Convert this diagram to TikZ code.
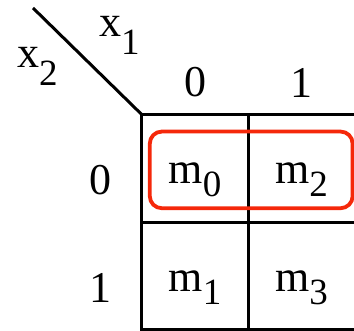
\documentclass[tikz,border=0pt]{standalone}
\usepackage{fontspec}
\setmainfont{Liberation Serif}
\usetikzlibrary{positioning, calc}

\definecolor{kmred}{RGB}{245,40,10}
\newcommand{\kmsub}[2][13pt]{\raisebox{-#1}{\fontsize{37}{37}\selectfont #2}}

\begin{document}
\begin{tikzpicture}[x=1pt, y=1pt, node distance=17pt and 30pt]

\tikzset{
  cell/.style={
    rectangle, inner sep=0pt,
    minimum width=106pt, minimum height=107.25pt,
    text height=40pt, text depth=9pt,
    font=\fontsize{44}{50}\selectfont
  },
  lbl/.style={inner sep=0pt, font=\fontsize{44}{50}\selectfont},
  grid/.style={line width=3pt},
  group/.style={draw=kmred, line width=3.8pt, rounded corners=12pt}
}

\useasboundingbox (0,0) rectangle (354,331);

% ==========================
% Cells
% ==========================
\node[cell] (m0) at (195,162.6) {m\kmsub{0}};
\node[cell, right=0pt of m0] (m2) {m\kmsub{2}};
\node[cell, below=0pt of m0] (m1) {m\kmsub{1}};
\node[cell, right=0pt of m1] (m3) {m\kmsub{3}};

\draw[grid] (m2.north east) -- (m0.north west) -- (m1.south west) -- (m3.south east);
\draw[grid] (m0.north east) -- (m3.south west);
\draw[grid] (m0.south west) -- (m2.south east);

% Corner
\coordinate (corner) at (33,323);
\draw[grid] (corner) -- (m0.north west);

% ==========================
% Labels
% ==========================
\node[lbl, above=of m0] (c0) {0};
\node[lbl, above=of m2] (c1) {1};
\node[lbl, left=of m0, yshift=-12pt] (r0) {0};
\node[lbl, left=of m1, yshift=-12pt] (r1) {1};

\node[lbl, anchor=base west] (x1) at (99,294) {x\kmsub[18pt]{1}};
\node[lbl, anchor=base west] (x2) at (17,263) {x\kmsub[18pt]{2}};

% Grouping
\draw[group] ($(m0.south west)+(8,14)$) rectangle ($(m2.north east)+(-2,-17)$);

\end{tikzpicture}
\end{document}
